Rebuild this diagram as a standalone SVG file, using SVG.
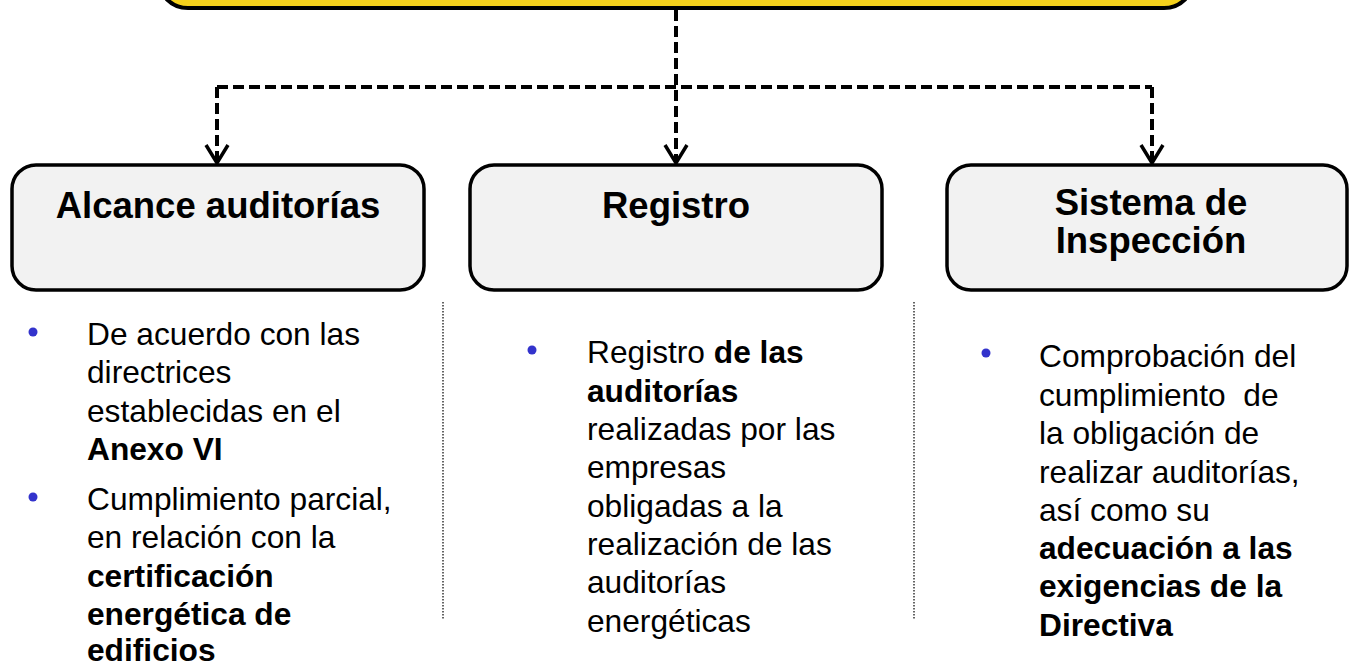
<svg xmlns="http://www.w3.org/2000/svg" width="1351" height="665" viewBox="0 0 1351 665">
  <style>
    .node { fill: #F2F2F2; stroke: #000; stroke-width: 3.5; }
    .top { fill: #F6D21C; stroke: #000; stroke-width: 4; }
    .title { font-family: "Liberation Sans", Arial, sans-serif; font-weight: bold; font-size: 36.5px; fill: #000; text-anchor: middle; }
    .body { font-family: "Liberation Sans", Arial, sans-serif; font-size: 31.7px; fill: #000; white-space: pre; }
    .b { font-weight: bold; }
    .bullet { fill: #3333CC; }
    .conn { fill: none; stroke: #000; stroke-width: 4; stroke-dasharray: 11 5; }
    .div { fill: none; stroke: #333; stroke-width: 1.5; stroke-dasharray: 1.5 1.5; }
  </style>
  <defs>
    <marker id="arrow" viewBox="0 0 22 26" refX="19" refY="13" markerWidth="22" markerHeight="26" markerUnits="userSpaceOnUse" orient="auto">
      <path d="M1,2 L19,13 L1,24" fill="none" stroke="#000" stroke-width="3.5" stroke-dasharray="none" stroke-linejoin="miter"/>
    </marker>
  </defs>

  <g id="top-node">
    <rect class="top" x="158" y="-70" width="1036" height="78" rx="30" ry="30"/>
  </g>

  <g id="connectors">
    <path class="conn" d="M676,10 V163" marker-end="url(#arrow)"/>
    <path class="conn" d="M217,87 H1152"/>
    <path class="conn" d="M217,87 V163" marker-end="url(#arrow)"/>
    <path class="conn" d="M1152,87 V163" marker-end="url(#arrow)"/>
  </g>

  <g id="node-alcance">
    <rect class="node" x="12" y="165" width="412" height="125" rx="24" ry="24"/>
    <text class="title" x="218" y="218">Alcance auditorías</text>
  </g>

  <g id="node-registro">
    <rect class="node" x="470" y="165" width="412" height="125" rx="24" ry="24"/>
    <text class="title" x="676" y="218">Registro</text>
  </g>

  <g id="node-inspeccion">
    <rect class="node" x="947" y="165" width="400" height="125" rx="24" ry="24"/>
    <text class="title" x="1151" y="215">Sistema de</text>
    <text class="title" x="1151" y="253">Inspección</text>
  </g>

  <g id="dividers">
    <line class="div" x1="443" y1="302" x2="443" y2="620"/>
    <line class="div" x1="914" y1="302" x2="914" y2="620"/>
  </g>

  <g id="list-alcance">
    <circle class="bullet" cx="33" cy="332" r="4.5"/>
    <text class="body" x="87" y="345">De acuerdo con las</text>
    <text class="body" x="87" y="383">directrices</text>
    <text class="body" x="87" y="422">establecidas en el</text>
    <text class="body b" x="87" y="460">Anexo VI</text>
    <circle class="bullet" cx="33" cy="497" r="4.5"/>
    <text class="body" x="87" y="510">Cumplimiento parcial,</text>
    <text class="body" x="87" y="548">en relación con la</text>
    <text class="body b" x="87" y="587">certificación</text>
    <text class="body b" x="87" y="625">energética de</text>
    <text class="body b" x="87" y="661">edificios</text>
  </g>

  <g id="list-registro">
    <circle class="bullet" cx="532" cy="350" r="4.5"/>
    <text class="body" x="587" y="363">Registro <tspan class="b">de las</tspan></text>
    <text class="body b" x="587" y="402">auditorías</text>
    <text class="body" x="587" y="440">realizadas por las</text>
    <text class="body" x="587" y="478">empresas</text>
    <text class="body" x="587" y="517">obligadas a la</text>
    <text class="body" x="587" y="555">realización de las</text>
    <text class="body" x="587" y="593">auditorías</text>
    <text class="body" x="587" y="632">energéticas</text>
  </g>

  <g id="list-inspeccion">
    <circle class="bullet" cx="986" cy="353" r="4.5"/>
    <text class="body" x="1039" y="367">Comprobación del</text>
    <text class="body" x="1039" y="406">cumplimiento  de</text>
    <text class="body" x="1039" y="444">la obligación de</text>
    <text class="body" x="1039" y="483">realizar auditorías,</text>
    <text class="body" x="1039" y="521">así como su</text>
    <text class="body b" x="1039" y="559">adecuación a las</text>
    <text class="body b" x="1039" y="597">exigencias de la</text>
    <text class="body b" x="1039" y="636">Directiva</text>
  </g>
</svg>
